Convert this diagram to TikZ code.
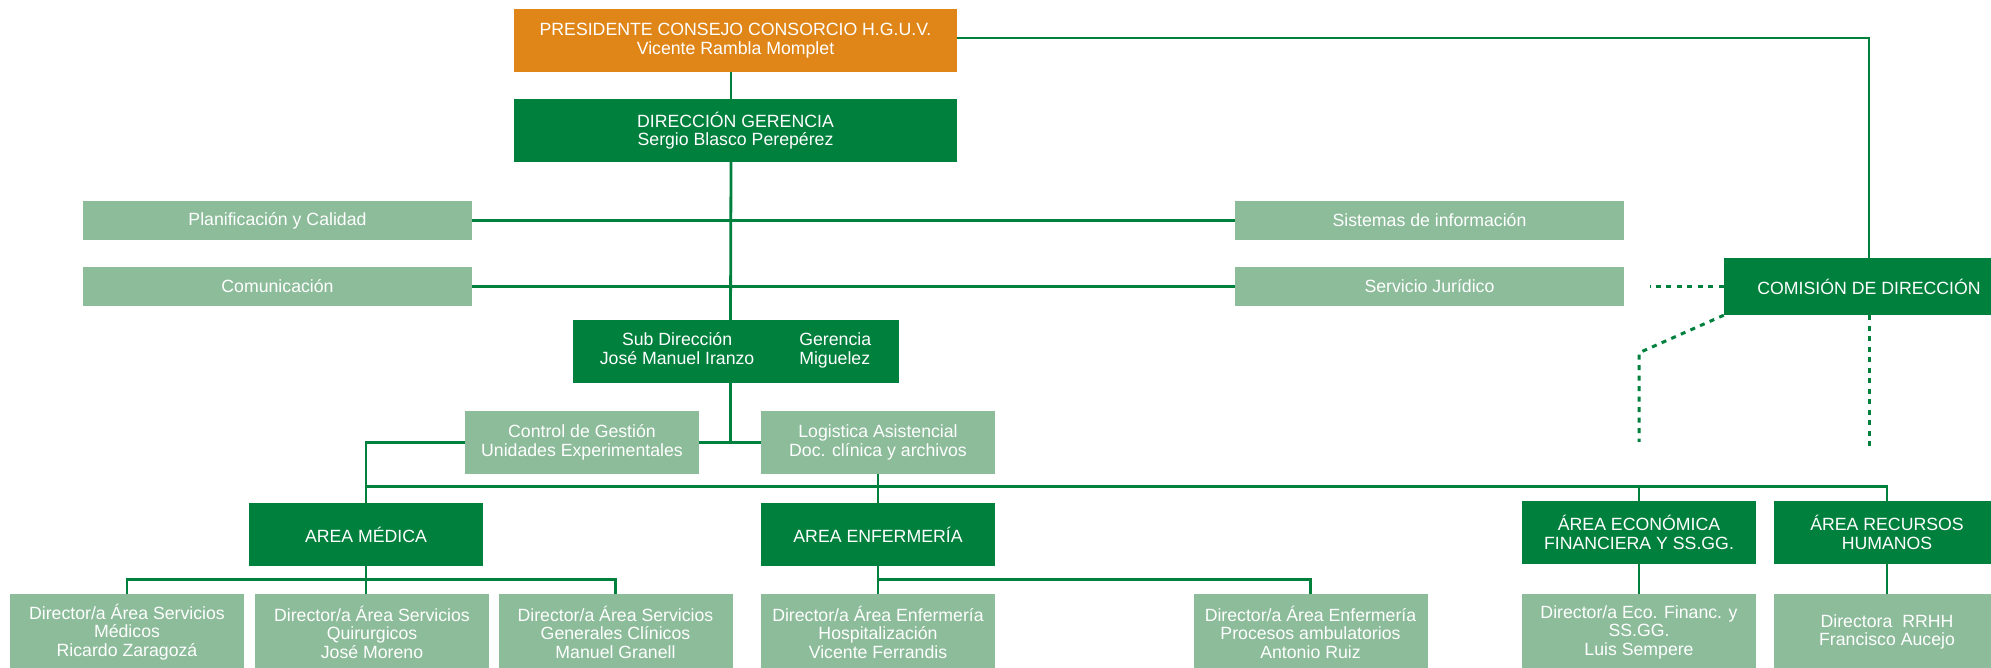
\documentclass[tikz,border=0pt]{standalone}
\usepackage{fontspec}
\setmainfont{Liberation Sans}
\usepackage{tikz}
\definecolor{hguvorange}{RGB}{224,134,25}
\definecolor{hguvgreen}{RGB}{0,128,61}
\definecolor{hguvlight}{RGB}{140,188,154}
\newcommand{\orgfont}{\fontsize{17.7pt}{18.5pt}\selectfont}
\tikzstyle{presi} = [rectangle, minimum width=443pt, minimum height=63pt, inner sep=0pt, align=center, text=white, fill=hguvorange, font=\orgfont]
\tikzstyle{block} = [rectangle, minimum width=234pt, minimum height=63pt, inner sep=0pt, align=center, text=white, fill=hguvgreen, font=\orgfont]
\tikzstyle{block2} = [block, minimum width=443pt]
\tikzstyle{soft} = [rectangle, minimum width=389pt, minimum height=39pt, inner sep=0pt, align=center, text=white, fill=hguvlight, font=\orgfont]
\tikzstyle{soft2} = [soft, minimum width=234pt, minimum height=63pt]
\tikzstyle{soft3} = [soft, minimum width=234pt, minimum height=76pt]
\tikzstyle{conn} = [draw=hguvgreen, line width=2.8pt]
\tikzstyle{dotline} = [draw=hguvgreen, line width=3pt, dash pattern=on 5pt off 5.5pt]

\begin{document}
\begin{tikzpicture}[node distance=90pt]
        \useasboundingbox (0,0) rectangle (1991pt,-668pt);
        \node (pres) [presi] at (735.5pt,-40.5pt) {PRESIDENTE CONSEJO CONSORCIO H.G.U.V.\\Vicente Rambla Momplet};
        \node (dirg) [block2, below of=pres] {DIRECCIÓN GERENCIA\\Sergio Blasco Perepérez};
        \node (plan) [soft, below of=dirg, xshift=-458pt] {Planificación y Calidad};
        \node (sist) [soft, below of=dirg, xshift=+694pt] {Sistemas de información};
        \node (comu) [soft, below of=plan, yshift=+24pt] {Comunicación};
        \node (jur) [soft, below of=sist, yshift=+24pt] {Servicio Jurídico};
        \node (comi) [block, right of=jur, xshift=+349.5pt, minimum width=290pt, minimum height=57pt] {COMISIÓN DE DIRECCIÓN};
        \node (subd) [block, below of=dirg, yshift=-131pt, minimum width=326pt] {\begin{tabular}{@{}c@{\hspace{45pt}}l@{}}Sub Dirección & Gerencia\\José Manuel Iranzo & Miguelez\end{tabular}};
        \node (ctrl) [soft2, below of=subd, xshift=-153.5pt, yshift=-1pt] {Control de Gestión\\Unidades Experimentales};
        \node (logi) [soft2, right of=ctrl, xshift=+206pt] {Logistica Asistencial\\Doc. clínica y archivos};
        \node (med) [block, below of=ctrl, xshift=-216pt, yshift=-2pt] {AREA MÉDICA};
        \node (enf) [block, below of=logi, yshift=-2pt] {AREA ENFERMERÍA};
        \node (eco) [block, right of=enf, xshift=+671pt, yshift=+2pt] {ÁREA ECONÓMICA\\FINANCIERA Y SS.GG.};
        \node (rrhh) [block, right of=eco, xshift=+158pt, minimum width=226pt] {ÁREA RECURSOS\\HUMANOS};
        \node (dmed) [soft3, below of=med, xshift=-239pt, yshift=-7.5pt] {Director/a Área Servicios\\Médicos\\Ricardo Zaragozá};
        \node (dquir) [soft3, right of=dmed, xshift=+155pt] {Director/a Área Servicios\\Quirurgicos\\José Moreno};
        \node (dgen) [soft3, right of=dquir, xshift=+153.5pt] {Director/a Área Servicios\\Generales Clínicos\\Manuel Granell};
        \node (dhosp) [soft3, below of=enf, yshift=-7.5pt] {Director/a Área Enfermería\\Hospitalización\\Vicente Ferrandis};
        \node (dproc) [soft3, right of=dhosp, xshift=+342.5pt] {Director/a Área Enfermería\\Procesos ambulatorios\\Antonio Ruiz};
        \node (deco) [soft3, below of=eco, yshift=-9.5pt] {Director/a Eco. Financ. y\\SS.GG.\\Luis Sempere};
        \node (drrhh) [soft3, below of=rrhh, yshift=-9.5pt, minimum width=227pt] {Directora\ \ RRHH\\Francisco Aucejo};

        \coordinate (bus) at ([yshift=16pt]enf.north);
        \coordinate (subbus) at ([yshift=14pt]dhosp.north);
        \coordinate (comiL) at ([xshift=-74pt]comi.west);
        \coordinate (comiD) at ([yshift=-132pt]comi.south);
        \coordinate (ecoA) at ([yshift=148pt]eco.north);
        \coordinate (ecoB) at ([yshift=59pt]eco.north);

        \draw [conn] ([xshift=-4.5pt]pres.south) -- ([xshift=-4.5pt]dirg.north);
        \draw [conn] ([xshift=-4.5pt]dirg.south) -- ([xshift=-5pt]subd.north);
        \draw [conn] (plan) -- (sist);
        \draw [conn] (comu) -- (jur);
        \draw [conn] ([yshift=2.5pt]pres.east) -| (comi.north);
        \draw [conn] ([xshift=-5pt]subd.south) -- ([xshift=-5pt]subd.south |- ctrl.east);
        \draw [conn] (ctrl) -- (logi);
        \draw [conn] (ctrl.west) -| (med.north);
        \draw [conn] (logi) -- (enf);
        \draw [conn] (med |- bus) -| (rrhh.north);
        \draw [conn] (eco |- bus) -- (eco.north);
        \draw [conn] (med) -- (med |- dquir.north);
        \draw [conn] (dmed.north) |- (subbus -| dgen) -- (dgen.north);
        \draw [conn] (enf) -- (dhosp);
        \draw [conn] (dhosp.north |- subbus) -| (dproc.north);
        \draw [conn] (eco) -- (deco);
        \draw [conn] (rrhh) -- (drrhh);
        \draw [dotline] (comi.west) -- (comiL);
        \draw [dotline] (comi.south west) -- (ecoA) -- (ecoB);
        \draw [dotline] (comi.south) -- (comiD);
\end{tikzpicture}
\end{document}
